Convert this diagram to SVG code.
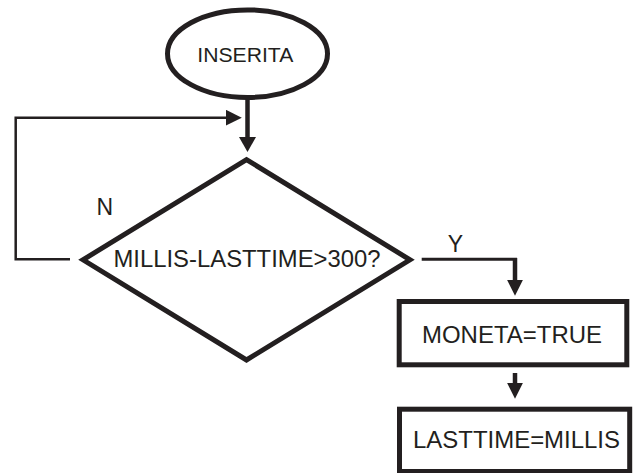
<svg xmlns="http://www.w3.org/2000/svg" width="637" height="473" viewBox="0 0 637 473">
<style>
.shape{fill:#ffffff;stroke:#231f20;stroke-width:5}
.lbl{font-family:"Liberation Sans",Arial,sans-serif;fill:#231f20;text-anchor:middle}
.thick{stroke:#231f20;stroke-width:4.5;fill:none}
.thin{stroke:#231f20;stroke-width:2.5;fill:none}
</style>
<defs>
<marker id="ah" markerUnits="userSpaceOnUse" markerWidth="16" markerHeight="16" viewBox="0 0 15 15" refX="3" refY="7.5" orient="auto">
<path d="M0,0 L15,7.5 L0,15 z" fill="#231f20"/>
</marker>
<marker id="ahw" markerUnits="userSpaceOnUse" markerWidth="15" markerHeight="17" viewBox="0 0 15 17" refX="3" refY="8.5" orient="auto">
<path d="M0,0 L15,8.5 L0,17 z" fill="#231f20"/>
</marker>
</defs>
<g id="connectors">
<line class="thick" x1="247.5" y1="98" x2="247.5" y2="140" marker-end="url(#ahw)"/>
<polyline class="thin" points="70,259.3 15.7,259.3 15.7,117.7 229,117.7" marker-end="url(#ah)"/>
<line x1="421.7" y1="259.3" x2="517" y2="259.3" stroke="#231f20" stroke-width="3"/>
<line class="thick" x1="515" y1="258" x2="515" y2="283" marker-end="url(#ah)"/>
<line class="thick" x1="515" y1="373" x2="515" y2="386" marker-end="url(#ah)"/>
<text class="lbl" x="104.7" y="215" font-size="23">N</text>
<text class="lbl" x="455.5" y="251.7" font-size="23">Y</text>
</g>
<g id="start">
<ellipse class="shape" cx="247.5" cy="53.7" rx="80" ry="43.8"/>
<text class="lbl" x="245.3" y="62.3" font-size="21" textLength="96" lengthAdjust="spacingAndGlyphs">INSERITA</text>
</g>
<g id="decision">
<polygon class="shape" points="246.5,159.6 410,259.8 246.5,360 83,259.8"/>
<text class="lbl" x="247" y="266.7" font-size="23.5" textLength="267" lengthAdjust="spacingAndGlyphs">MILLIS-LASTTIME&gt;300?</text>
</g>
<g id="moneta">
<rect class="shape" x="399.2" y="301.5" width="227.6" height="63.3"/>
<text class="lbl" x="512" y="343.3" font-size="23.5" textLength="180" lengthAdjust="spacingAndGlyphs">MONETA=TRUE</text>
</g>
<g id="lasttime">
<rect class="shape" x="399.5" y="409.2" width="230.2" height="62.3"/>
<text class="lbl" x="516.5" y="448" font-size="23.5" textLength="207" lengthAdjust="spacingAndGlyphs">LASTTIME=MILLIS</text>
</g>
</svg>
